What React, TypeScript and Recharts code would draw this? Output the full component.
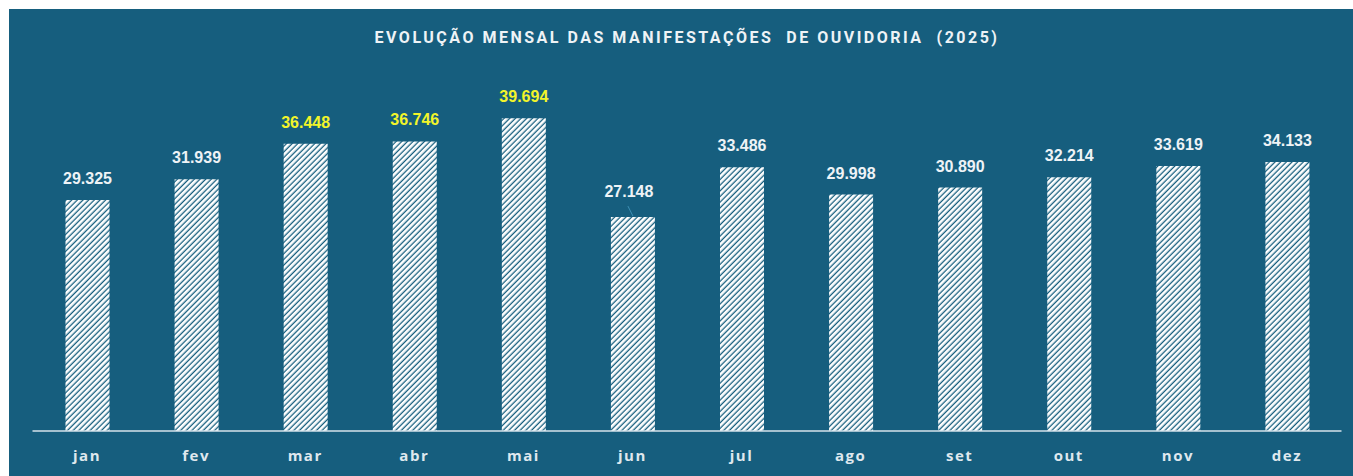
import React from "react";
import { BarChart, Bar, XAxis, YAxis, LabelList } from "recharts";

const months = ["jan", "fev", "mar", "abr", "mai", "jun", "jul", "ago", "set", "out", "nov", "dez"];
const totals = [29325, 31939, 36448, 36746, 39694, 27148, 33486, 29998, 30890, 32214, 33619, 34133];
// meses destacados em amarelo
const highlighted = ["mar", "abr", "mai"];
// rótulo afastado com linha de chamada
const leaderMonths = ["jun"];

const title = "EVOLUÇÃO MENSAL DAS MANIFESTAÇÕES  DE OUVIDORIA  (2025)";

const BG = "#165e7e";

const data = months.map((m, i) => ({ month: m, total: totals[i] }));

const fmt = (v: number) => v.toLocaleString("pt-BR");

const ValueLabel = (props: any) => {
  const { x, y, width, value, index } = props;
  const month = months[index];
  const cx = Number(x) + Number(width) / 2;
  const yellow = highlighted.includes(month);
  const leader = leaderMonths.includes(month);
  const base = Number(y) - (leader ? 20 : 16);
  return (
    <g>
      {leader && (
        <line x1={cx - 5} y1={Number(y) - 11} x2={cx} y2={Number(y) - 1} stroke="#3c8fb4" strokeWidth={1} />
      )}
      <text
        x={leader ? cx - 4 : cx}
        y={base}
        textAnchor="middle"
        fill={yellow ? "#f2f52a" : "#eef3f6"}
        fontFamily="'Liberation Sans', Arial, sans-serif"
        fontWeight={700}
        fontSize={16}
      >
        {fmt(Number(value))}
      </text>
    </g>
  );
};

const MonthTick = (props: any) => {
  const { x, y, payload } = props;
  return (
    <text
      x={x}
      y={y + 22}
      textAnchor="middle"
      fill="#dfe8ee"
      fontFamily="'Open Sans', sans-serif"
      fontWeight={700}
      fontSize={15}
      letterSpacing={1.5}
    >
      {payload.value}
    </text>
  );
};

export default function App() {
  return (
    <div style={{ position: "fixed", left: 9, top: 9, width: 1344, height: 467, background: BG, overflow: "hidden" }}>
      <div
        style={{
          position: "absolute",
          left: 0,
          width: 1356,
          top: 19,
          textAlign: "center",
          color: "#eef3f6",
          fontFamily: "Roboto, sans-serif",
          fontWeight: 700,
          fontSize: 16,
          letterSpacing: 2.5,
          whiteSpace: "pre",
          lineHeight: "20px",
        }}
      >
        {title}
      </div>
      <BarChart width={1344} height={467} data={data} margin={{ top: 28, right: 11.5, left: 23.5, bottom: 0 }}>
        <defs>
          <pattern id="hatch" width="4" height="4" patternUnits="userSpaceOnUse" patternTransform="rotate(45)">
            <rect x="0" y="0" width="4" height="4" fill={BG} />
            <rect x="0" y="0" width="2.7" height="4" fill="#ffffff" />
          </pattern>
        </defs>
        <XAxis
          dataKey="month"
          height={45}
          axisLine={{ stroke: "#d6e3eb", strokeWidth: 1.5 }}
          tickLine={false}
          tick={<MonthTick />}
          interval={0}
        />
        <YAxis hide domain={[0, 50000]} />
        <Bar dataKey="total" barSize={44} fill="url(#hatch)" isAnimationActive={false}>
          <LabelList dataKey="total" content={<ValueLabel />} />
        </Bar>
      </BarChart>
    </div>
  );
}
